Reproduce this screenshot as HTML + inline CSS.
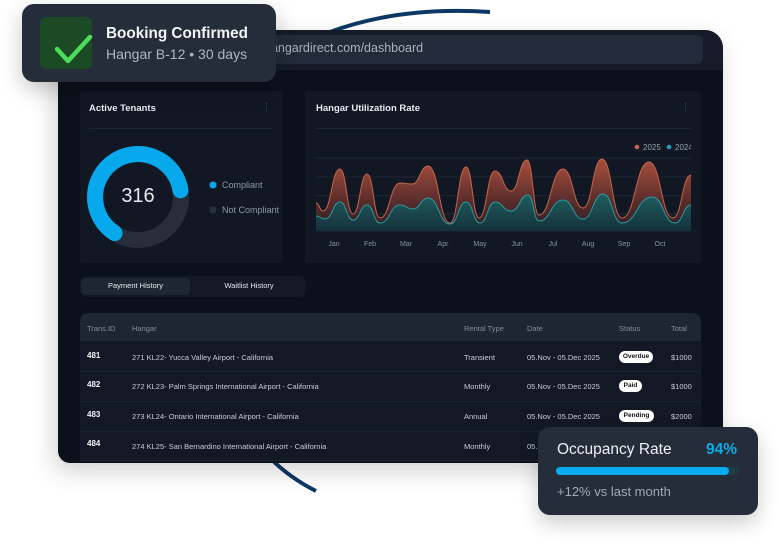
<!DOCTYPE html>
<html><head><meta charset="utf-8">
<style>
*{margin:0;padding:0;box-sizing:border-box}
html,body{width:779px;height:557px;background:#fff;overflow:hidden;font-family:"Liberation Sans",Arial,sans-serif}
.abs{position:absolute}
#frame{left:58px;top:30px;width:665px;height:433px;background:#0b111b;border-radius:18px 18px 12px 12px;overflow:hidden;box-shadow:-4px 8px 24px rgba(0,0,0,0.18)}
#topbar{left:0;top:0;width:665px;height:40px;background:#151b28}
#url{left:20px;top:5px;width:625px;height:29px;background:#232b3a;border-radius:6px}
.card{background:#111824;border-radius:3px}
.ttl{font-size:9.5px;font-weight:bold;color:#e8eaee}
.txt{font-size:7.5px;color:#c9ced6;white-space:nowrap}
.hd{font-size:7.5px;color:#848c99;white-space:nowrap}
.id{font-size:8px;color:#f0f2f5;font-weight:bold}
.badge{background:#fff;color:#111;font-size:6.5px;font-weight:bold;border-radius:6px;height:12px;line-height:12px;text-align:center}
</style></head><body>

<svg class="abs" style="left:0;top:0" width="779" height="557">
  <path d="M330 32 Q 400 6 490 12" stroke="#0d3866" stroke-width="4" fill="none"/>
  <path d="M270 458 Q 290 478 316 491" stroke="#0d3866" stroke-width="4" fill="none"/>
</svg>

<div id="frame" class="abs">
  <div id="topbar" class="abs"><div id="url" class="abs"></div>
    <div class="abs" style="left:206px;top:11px;font-size:12.5px;color:#aab1bc;white-space:nowrap">hangardirect.com/dashboard</div>
  </div>
</div>

<!-- Active tenants card -->
<div class="abs card" style="left:80px;top:91px;width:203px;height:172px"></div>
<div class="abs ttl" style="left:89px;top:103px">Active Tenants</div>
<div class="abs" style="left:89px;top:128px;width:184px;height:1px;background:#1f2633"></div>
<div class="abs" style="left:266px;top:103px;width:2px;height:9px;border-left:1px dotted #3a4250"></div>
<svg class="abs" style="left:0;top:0" width="300" height="300">
  <circle cx="138" cy="197" r="43" stroke="#272e3a" stroke-width="16" fill="none"/>
  <path d="M114.6 233.1 A43 43 0 1 1 180.5 190.3" stroke="#07a8ec" stroke-width="16" fill="none" stroke-linecap="round"/>
  <circle cx="213" cy="185" r="3.5" fill="#07a8ec"/>
  <circle cx="213" cy="210" r="3.5" fill="#2a313d"/>
</svg>
<div class="abs" style="left:118px;top:185px;font-size:20px;color:#e6e8ec;width:40px;text-align:center">316</div>
<div class="abs" style="left:222px;top:180px;font-size:9px;color:#8f97a3">Compliant</div>
<div class="abs" style="left:222px;top:205px;font-size:9px;color:#8f97a3">Not Compliant</div>

<!-- Utilization card -->
<div class="abs card" style="left:305px;top:91px;width:396px;height:172px"></div>
<div class="abs ttl" style="left:316px;top:103px">Hangar Utilization Rate</div>
<div class="abs" style="left:685px;top:103px;width:2px;height:9px;border-left:1px dotted #3a4250"></div>
<svg class="abs" style="left:0;top:0" width="691" height="260">
  <defs>
    <linearGradient id="og" x1="0" y1="155" x2="0" y2="231" gradientUnits="userSpaceOnUse">
      <stop offset="0" stop-color="#b0533f"/>
      <stop offset="0.6" stop-color="#5a2d2c"/>
      <stop offset="1" stop-color="#2a1f24"/>
    </linearGradient>
    <linearGradient id="tg" x1="0" y1="194" x2="0" y2="231" gradientUnits="userSpaceOnUse">
      <stop offset="0" stop-color="#1f5f60"/>
      <stop offset="1" stop-color="#15313a"/>
    </linearGradient>
  </defs>
  <g stroke="#1f2633" stroke-width="1">
    <line x1="316" y1="128.5" x2="691" y2="128.5"/>
    <line x1="316" y1="158" x2="691" y2="158"/>
    <line x1="316" y1="177" x2="691" y2="177"/>
    <line x1="316" y1="195.5" x2="691" y2="195.5"/>
    <line x1="316" y1="214" x2="691" y2="214"/>
    <line x1="316" y1="231" x2="691" y2="231"/>
  </g>
  <path fill="url(#og)" d="M316,203 C319.5,203 319.5,211 323,211 C331.5,211 331.5,169 340,169 C346.5,169 346.5,214 353,214 C360,214 360,174 367,174 C373.5,174 373.5,218 380,218 C390,218 390,183 400,183 C406,183 406,184 412,184 C420,184 420,166 428,166 C439,166 439,223 450,223 C458,223 458,167 466,167 C472.5,167 472.5,218 479,218 C487,218 487,171 495,171 C503,171 503,191 511,191 C519,191 519,160 527,160 C533,160 533,215 539,215 C551,215 551,169 563,169 C573,169 573,208 583,208 C592.5,208 592.5,159 602,159 C612,159 612,218 622,218 C635.5,218 635.5,162 649,162 C661,162 661,218 673,218 C682,218 682,175 691,175 L691,231 L316,231 Z"/>
  <path fill="none" stroke="#c8644c" stroke-width="1" d="M316,203 C319.5,203 319.5,211 323,211 C331.5,211 331.5,169 340,169 C346.5,169 346.5,214 353,214 C360,214 360,174 367,174 C373.5,174 373.5,218 380,218 C390,218 390,183 400,183 C406,183 406,184 412,184 C420,184 420,166 428,166 C439,166 439,223 450,223 C458,223 458,167 466,167 C472.5,167 472.5,218 479,218 C487,218 487,171 495,171 C503,171 503,191 511,191 C519,191 519,160 527,160 C533,160 533,215 539,215 C551,215 551,169 563,169 C573,169 573,208 583,208 C592.5,208 592.5,159 602,159 C612,159 612,218 622,218 C635.5,218 635.5,162 649,162 C661,162 661,218 673,218 C682,218 682,175 691,175"/>
  <path fill="url(#tg)" d="M316,216 C320.5,216 320.5,219 325,219 C332.5,219 332.5,202 340,202 C346.5,202 346.5,220 353,220 C360,220 360,205 367,205 C373.5,205 373.5,223 380,223 C390,223 390,205 400,205 C406.5,205 406.5,209 413,209 C420.5,209 420.5,198 428,198 C439,198 439,224 450,224 C458,224 458,202 466,202 C473,202 473,223 480,223 C487.5,223 487.5,202 495,202 C503,202 503,211 511,211 C519.5,211 519.5,195 528,195 C533.5,195 533.5,221 539,221 C551,221 551,200 563,200 C573,200 573,219 583,219 C593,219 593,194 603,194 C612.5,194 612.5,223 622,223 C637,223 637,197 652,197 C663.5,197 663.5,223 675,223 C683,223 683,205 691,205 L691,231 L316,231 Z"/>
  <path fill="none" stroke="#2b9aa0" stroke-width="1" d="M316,216 C320.5,216 320.5,219 325,219 C332.5,219 332.5,202 340,202 C346.5,202 346.5,220 353,220 C360,220 360,205 367,205 C373.5,205 373.5,223 380,223 C390,223 390,205 400,205 C406.5,205 406.5,209 413,209 C420.5,209 420.5,198 428,198 C439,198 439,224 450,224 C458,224 458,202 466,202 C473,202 473,223 480,223 C487.5,223 487.5,202 495,202 C503,202 503,211 511,211 C519.5,211 519.5,195 528,195 C533.5,195 533.5,221 539,221 C551,221 551,200 563,200 C573,200 573,219 583,219 C593,219 593,194 603,194 C612.5,194 612.5,223 622,223 C637,223 637,197 652,197 C663.5,197 663.5,223 675,223 C683,223 683,205 691,205"/>
  <line x1="316" y1="214" x2="691" y2="214" stroke="#2a3a44" stroke-width="0.6" opacity="0.6"/>
  <circle cx="637" cy="147" r="2.3" fill="#c8644c"/>
  <text x="643" y="150" font-size="8" fill="#9aa1ad" font-family="Liberation Sans">2025</text>
  <circle cx="669" cy="147" r="2.3" fill="#1b9bc0"/>
  <text x="675" y="150" font-size="8" fill="#9aa1ad" font-family="Liberation Sans">2024</text>
  <g font-size="7" fill="#8a929e" font-family="Liberation Sans" text-anchor="middle">
    <text x="334" y="246">Jan</text><text x="370" y="246">Feb</text><text x="406" y="246">Mar</text>
    <text x="443" y="246">Apr</text><text x="480" y="246">May</text><text x="517" y="246">Jun</text>
    <text x="553" y="246">Jul</text><text x="588" y="246">Aug</text><text x="624" y="246">Sep</text>
    <text x="660" y="246">Oct</text>
  </g>
</svg>

<!-- Tabs -->
<div class="abs" style="left:80px;top:276px;width:226px;height:21px;background:#121824;border-radius:7px"></div>
<div class="abs" style="left:81px;top:278px;width:109px;height:17px;background:#1f2633;border-radius:5px"></div>
<div class="abs" style="left:81px;top:281px;width:109px;text-align:center;font-size:7.5px;color:#e6e8ec">Payment History</div>
<div class="abs" style="left:195px;top:281px;width:108px;text-align:center;font-size:7.5px;color:#e6e8ec">Waitlist History</div>

<!-- Table -->
<div class="abs" style="left:80px;top:313px;width:621px;height:148px;background:#121925;border-radius:8px 8px 0 0;overflow:hidden">
  <div class="abs" style="left:0;top:0;width:621px;height:28px;background:#1f2633"></div>
  <div class="abs" style="left:0;top:58px;width:621px;height:1px;background:#1c2330"></div>
  <div class="abs" style="left:0;top:88px;width:621px;height:1px;background:#1c2330"></div>
  <div class="abs" style="left:0;top:118px;width:621px;height:1px;background:#1c2330"></div>
  <div class="abs" style="left:0;top:147px;width:621px;height:1px;background:#1c2330"></div>
</div>
<div class="abs hd" style="left:87px;top:324px">Trans.ID</div>
<div class="abs hd" style="left:132px;top:324px">Hangar</div>
<div class="abs hd" style="left:464px;top:324px">Rental Type</div>
<div class="abs hd" style="left:527px;top:324px">Date</div>
<div class="abs hd" style="left:619px;top:324px">Status</div>
<div class="abs hd" style="left:671px;top:324px">Total</div>

<div class="abs id" style="left:87px;top:351px">481</div>
<div class="abs txt" style="left:132px;top:353px">271 KL22- Yucca Valley Airport - California</div>
<div class="abs txt" style="left:464px;top:353px">Transient</div>
<div class="abs txt" style="left:527px;top:353px">05.Nov - 05.Dec 2025</div>
<div class="abs badge" style="left:619px;top:351px;width:34px">Overdue</div>
<div class="abs txt" style="left:671px;top:353px">$1000</div>

<div class="abs id" style="left:87px;top:380px">482</div>
<div class="abs txt" style="left:132px;top:382px">272 KL23- Palm Springs International Airport - California</div>
<div class="abs txt" style="left:464px;top:382px">Monthly</div>
<div class="abs txt" style="left:527px;top:382px">05.Nov - 05.Dec 2025</div>
<div class="abs badge" style="left:619px;top:380px;width:23px">Paid</div>
<div class="abs txt" style="left:671px;top:382px">$1000</div>

<div class="abs id" style="left:87px;top:410px">483</div>
<div class="abs txt" style="left:132px;top:412px">273 KL24- Ontario International Airport - California</div>
<div class="abs txt" style="left:464px;top:412px">Annual</div>
<div class="abs txt" style="left:527px;top:412px">05.Nov - 05.Dec 2025</div>
<div class="abs badge" style="left:619px;top:410px;width:35px">Pending</div>
<div class="abs txt" style="left:671px;top:412px">$2000</div>

<div class="abs id" style="left:87px;top:439px">484</div>
<div class="abs txt" style="left:132px;top:442px">274 KL25- San Bernardino International Airport - California</div>
<div class="abs txt" style="left:464px;top:442px">Monthly</div>
<div class="abs txt" style="left:527px;top:442px">05.Nov - 05.Dec 2025</div>

<!-- Booking card -->
<div class="abs" style="left:22px;top:4px;width:254px;height:78px;background:#252d3b;border-radius:12px;box-shadow:0 8px 22px rgba(0,0,0,0.22)"></div>
<div class="abs" style="left:40px;top:17px;width:52px;height:52px;background:#1b4a24;border-radius:6px"></div>
<svg class="abs" style="left:0;top:0" width="100" height="80">
  <path d="M57 49 L68 61 L90 37" stroke="#4ade5c" stroke-width="4.5" fill="none" stroke-linecap="round" stroke-linejoin="round"/>
</svg>
<div class="abs" style="left:106px;top:25px;font-size:15.3px;font-weight:bold;color:#f3f4f6;white-space:nowrap">Booking Confirmed</div>
<div class="abs" style="left:106px;top:46px;font-size:14px;color:#b0b6bf;white-space:nowrap">Hangar B-12 • 30 days</div>

<!-- Occupancy card -->
<div class="abs" style="left:538px;top:427px;width:220px;height:88px;background:#252d3b;border-radius:12px;box-shadow:0 8px 20px rgba(0,0,0,0.2)"></div>
<div class="abs" style="left:557px;top:441px;font-size:15.5px;color:#eef0f3;white-space:nowrap">Occupancy Rate</div>
<div class="abs" style="left:690px;top:441px;width:47px;text-align:right;font-size:15.5px;font-weight:bold;color:#12a8e6">94%</div>
<div class="abs" style="left:556px;top:467px;width:183px;height:8px;background:#1d3c46;border-radius:4px"></div>
<div class="abs" style="left:556px;top:467px;width:173px;height:8px;background:#06adee;border-radius:4px"></div>
<div class="abs" style="left:557px;top:484px;font-size:13px;color:#a3a9b2;white-space:nowrap">+12% vs last month</div>

</body></html>
